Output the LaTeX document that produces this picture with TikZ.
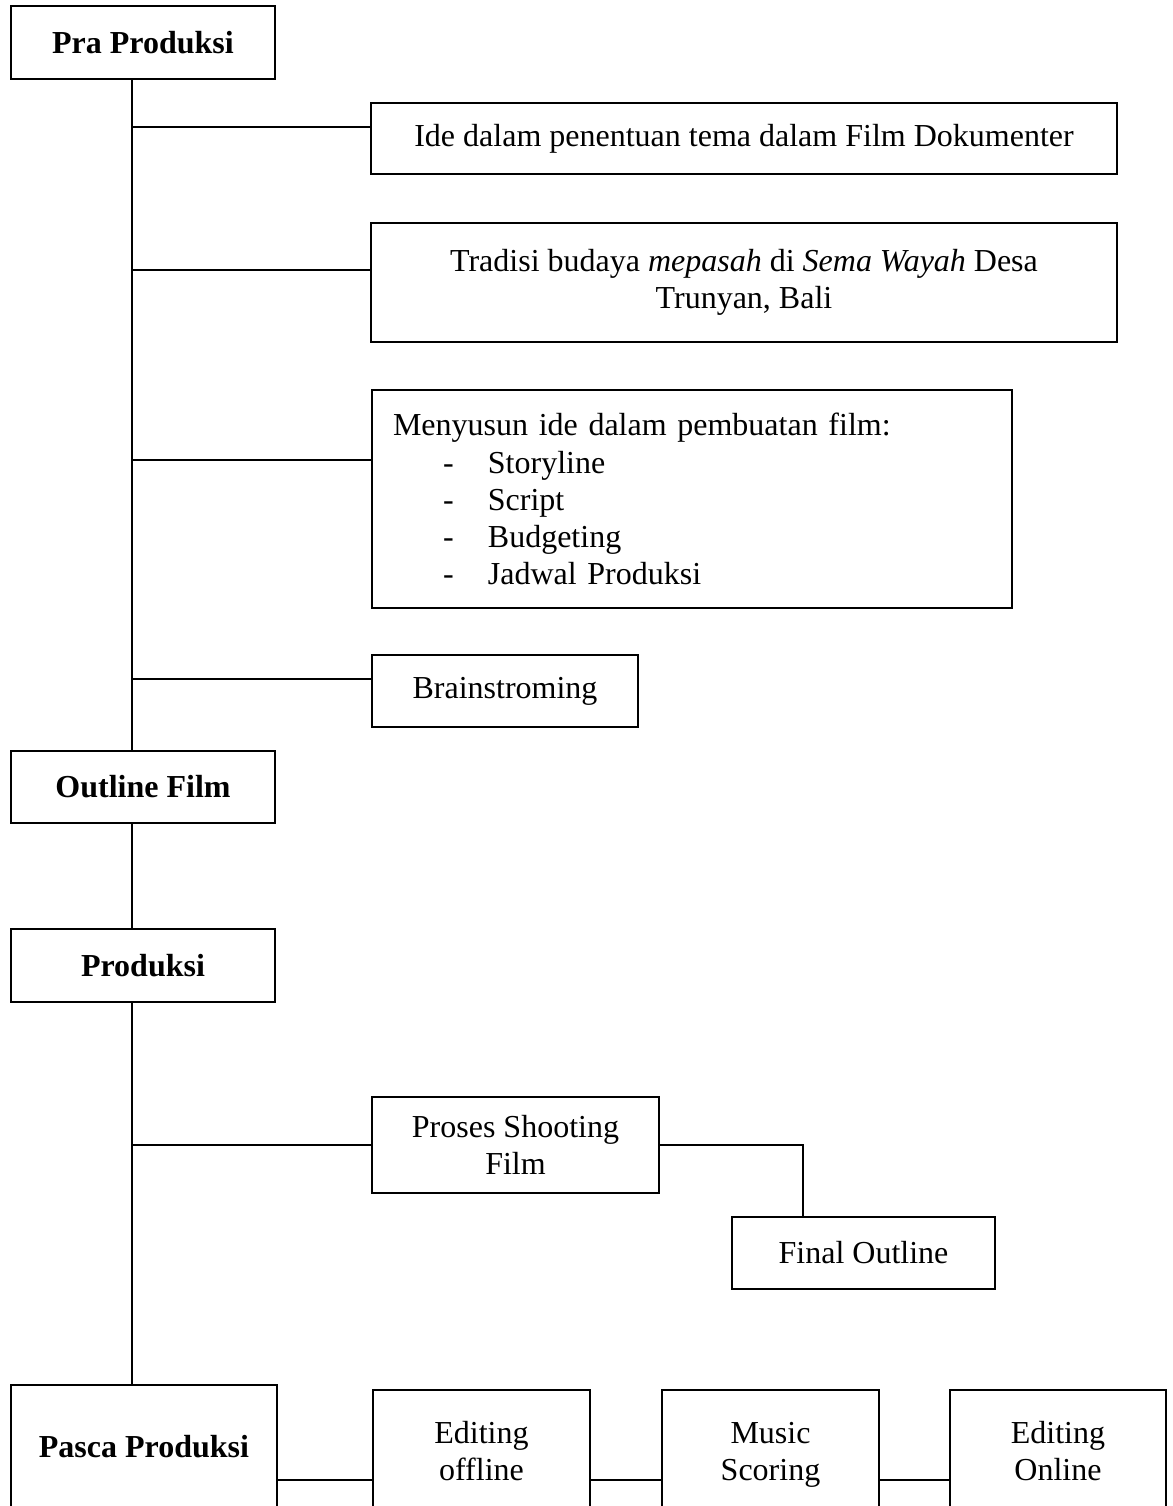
\documentclass[tikz,border=0pt]{standalone}
\usepackage{fontspec}
\setmainfont{Liberation Serif}
\begin{document}
\begin{tikzpicture}[x=0.375pt,y=-0.375pt,
  box/.style={draw,line width=0.75pt,inner sep=0pt,align=center,
    font=\fontsize{12pt}{13.9pt}\selectfont},
  hbox/.style={box,font=\fontsize{12pt}{13.9pt}\selectfont\bfseries},
  sz/.style 2 args={minimum width=#1*0.375pt,minimum height=#2*0.375pt},
  conn/.style={line width=0.75pt}]
\useasboundingbox (0,0) rectangle (1172,1506);
\clip (0,0) rectangle (1172,1506);
% main stages
\node[hbox,sz={264}{73}] (pra) at (143,42.5) {Pra Produksi};
\node[hbox,sz={264}{72}] (outline) at (143,787) {Outline Film};
\node[hbox,sz={264}{73}] (prod) at (143,965.5) {Produksi};
\node[hbox,sz={266}{124}] (pasca) at (144,1447) {Pasca Produksi};
% pra produksi items
\node[box,sz={746}{71}] (ide) at (744,138.5) {Ide dalam penentuan tema dalam Film Dokumenter};
\node[box,sz={746}{119}] (trad) at (744,282.5) {Tradisi budaya \textit{mepasah} di \textit{Sema Wayah} Desa\\Trunyan, Bali};
\node[box,sz={640}{218},align=left,inner xsep=7.875pt,text width=224.25pt] (meny) at (692,499)
  {Menyusun ide dalam pembuatan film:\\
   \makebox[35.6pt][l]{\hspace*{18.75pt}-}Storyline\\
   \makebox[35.6pt][l]{\hspace*{18.75pt}-}Script\\
   \makebox[35.6pt][l]{\hspace*{18.75pt}-}Budgeting\\
   \makebox[35.6pt][l]{\hspace*{18.75pt}-}Jadwal Produksi};
\node[box,sz={266}{72}] (brain) at (505,691) {Brainstroming};
% produksi items
\node[box,sz={287}{96}] (proses) at (515.5,1145) {Proses Shooting\\Film};
\node[box,sz={263}{72}] (final) at (863.5,1253) {Final Outline};
% pasca produksi items
\node[box,sz={217}{122},text depth=0pt] (off) at (481.5,1451) {Editing\\offline};
\node[box,sz={217}{122},text depth=0pt] (music) at (770.5,1451) {Music\\Scoring};
\node[box,sz={216}{122},text depth=0pt] (online) at (1058,1451) {Editing\\Online};
% spine
\coordinate (spx) at (132,0);
\draw[conn] (pra.south -| spx) -- (outline.north -| spx);
\draw[conn] (outline.south -| spx) -- (prod.north -| spx);
\draw[conn] (prod.south -| spx) -- (pasca.north -| spx);
% branches
\coordinate (b1) at (132,127);
\coordinate (b2) at (132,270);
\coordinate (b3) at (132,460);
\coordinate (b4) at (132,679);
\coordinate (b5) at (132,1145);
\draw[conn] (b1) -- (b1 -| ide.west);
\draw[conn] (b2) -- (b2 -| trad.west);
\draw[conn] (b3) -- (b3 -| meny.west);
\draw[conn] (b4) -- (b4 -| brain.west);
\draw[conn] (b5) -- (b5 -| proses.west);
\coordinate (k) at (803,1145);
\draw[conn] (proses.east) -- (k) -- (k |- final.north);
% bottom row
\coordinate (r) at (0,1480);
\draw[conn] (pasca.east |- r) -- (off.west |- r);
\draw[conn] (off.east |- r) -- (music.west |- r);
\draw[conn] (music.east |- r) -- (online.west |- r);
\end{tikzpicture}
\end{document}
